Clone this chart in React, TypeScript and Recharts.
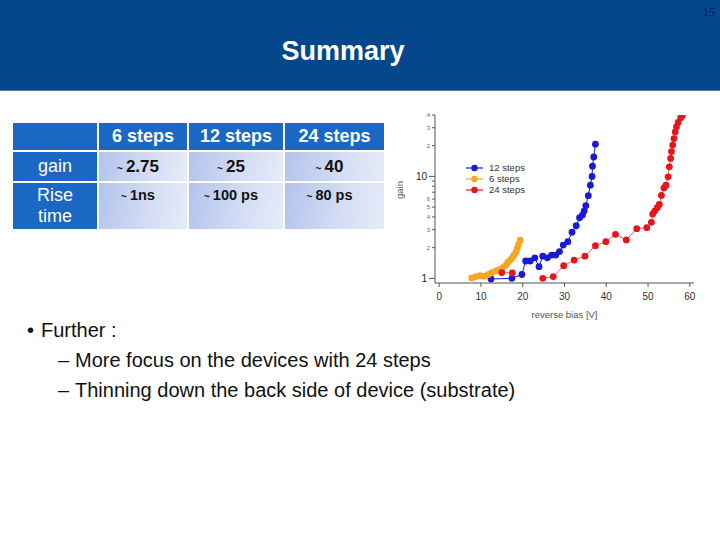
import React from "react";
import { ComposedChart, Line, XAxis, YAxis } from "recharts";

// gain vs reverse bias
const bias12 = [12.4, 17.4, 19.8, 20.7, 21.8, 22.9, 23.9, 24.8, 25.9, 26.9, 27.9, 28.8, 29.7, 30.8, 31.8, 32.8, 33.6, 34.3, 34.7, 35.1, 35.7, 36.2, 36.6, 36.7, 37.0, 37.4];
const gain12 = [0.985, 1.0, 1.09, 1.48, 1.48, 1.59, 1.3, 1.65, 1.59, 1.69, 1.69, 1.83, 2.12, 2.29, 2.83, 3.28, 3.93, 4.17, 4.57, 5.16, 6.47, 8.2, 10.0, 12.6, 15.5, 20.7];

const bias6 = [7.8, 8.8, 9.8, 10.8, 11.8, 12.6, 13.6, 14.4, 15.2, 16.0, 16.4, 17.0, 17.5, 17.9, 18.4, 18.7, 19.0, 19.4];
const gain6 = [1.01, 1.04, 1.06, 1.05, 1.09, 1.14, 1.18, 1.22, 1.27, 1.35, 1.43, 1.51, 1.59, 1.69, 1.82, 1.97, 2.15, 2.37];

const bias24Low = [15.0, 17.5];
const gain24Low = [1.14, 1.13];
const bias24 = [24.8, 27.3, 29.8, 32.3, 34.9, 37.4, 39.9, 42.2, 44.8, 47.3, 49.7, 50.8, 51.1, 51.6, 52.2, 52.7, 53.2, 53.8, 54.3, 54.8, 55.1, 55.4, 55.6, 55.9, 56.2, 56.5, 56.8, 57.2, 57.8, 58.2];
const gain24 = [1.0, 1.04, 1.33, 1.51, 1.65, 2.09, 2.29, 2.7, 2.38, 3.07, 3.14, 3.54, 4.27, 4.57, 4.93, 5.3, 6.5, 7.7, 8.2, 9.9, 12.4, 15.0, 17.5, 20.3, 23.5, 27.3, 30.5, 33.8, 37.6, 39.3];

const xTicks = [0, 10, 20, 30, 40, 50, 60];
const yTicks = [1, 2, 3, 4, 5, 6, 7, 8, 9, 10, 20, 30, 40];

const legendItems = [
  { name: "12 steps", color: "#1a1ad6" },
  { name: "6 steps", color: "#f5a623" },
  { name: "24 steps", color: "#e8161c" },
];

const tableHead = ["6 steps", "12 steps", "24 steps"];
const gainRow = ["2.75", "25", "40"];
const riseRow = ["1ns", "100 ps", "80 ps"];

const pts = (xs: number[], ys: number[]) => xs.map((v, i) => ({ v, g: ys[i] }));

const FONT = '"Liberation Sans", Arial, sans-serif';

const YTick = (props: any) => {
  const { x, y, payload } = props;
  const val = payload.value;
  const major = val === 1 || val === 10;
  const len = major ? 6 : 3;
  let label = "";
  if (val === 1 || val === 10) label = String(val);
  else if (val < 7) label = String(val);
  else if (val >= 20) label = String(val / 10);
  return (
    <g>
      <line x1={x - len} x2={x} y1={y} y2={y} stroke="#555" strokeWidth={1} />
      {label && (
        <text
          x={x - len - 2}
          y={y}
          dy={major ? 3.5 : 2}
          textAnchor="end"
          fontSize={major ? 10 : 6}
          fill={major ? "#222" : "#666"}
          fontFamily={FONT}
        >
          {label}
        </text>
      )}
    </g>
  );
};

const LegendBox = () => (
  <div style={{ fontFamily: FONT, fontSize: 9.5, color: "#333" }}>
    {legendItems.map((it) => (
      <div key={it.name} style={{ display: "flex", alignItems: "center", height: 11 }}>
        <svg width={18} height={8} style={{ marginRight: 5 }}>
          <line x1={0} x2={17} y1={4} y2={4} stroke={it.color} strokeWidth={1.2} />
          <circle cx={8.5} cy={4} r={3.2} fill={it.color} />
        </svg>
        {it.name}
      </div>
    ))}
  </div>
);

const headCell: React.CSSProperties = {
  background: "#1b67c4",
  color: "#fff",
  fontWeight: "bold",
  fontSize: 18,
  textAlign: "center",
  padding: 0,
};

const dataCell: React.CSSProperties = {
  background: "linear-gradient(100deg, #b3c3ec 0%, #d5def4 60%, #e6ebf8 100%)",
  color: "#111",
  fontWeight: "bold",
  textAlign: "center",
  padding: 0,
  paddingRight: 10,
};

const Tilde = () => <span style={{ fontSize: 10, marginRight: 3 }}>~</span>;

export default function App() {
  const seriesProps = (color: string, lineColor?: string) => ({
    type: "linear" as const,
    dataKey: "g",
    stroke: lineColor || color,
    strokeWidth: 1,
    dot: { r: 3.4, fill: color, stroke: color, strokeWidth: 0 },
    activeDot: false as const,
    isAnimationActive: false,
    legendType: "none" as const,
  });

  return (
    <div
      style={{
        position: "absolute",
        left: 0,
        top: 0,
        width: 720,
        height: 540,
        background: "#fff",
        overflow: "hidden",
        fontFamily: FONT,
      }}
    >
      {/* title bar */}
      <div
        style={{
          position: "absolute",
          left: 0,
          top: 0,
          width: 720,
          height: 90,
          background: "#04478a",
          borderBottom: "1px solid #5a7fa8",
        }}
      >
        <div
          style={{
            position: "absolute",
            right: 5,
            top: 5,
            fontFamily: '"Liberation Serif", serif',
            fontSize: 12,
            color: "#061a3c",
          }}
        >
          15
        </div>
        <div
          style={{
            position: "absolute",
            left: 0,
            width: 686,
            top: 36,
            textAlign: "center",
            color: "#fff",
            fontWeight: "bold",
            fontSize: 27,
          }}
        >
          Summary
        </div>
      </div>

      {/* table */}
      <table
        style={{
          position: "absolute",
          left: 11,
          top: 121,
          borderCollapse: "separate",
          borderSpacing: 2,
        }}
      >
        <tbody>
          <tr style={{ height: 27 }}>
            <td style={{ ...headCell, width: 84 }}></td>
            {tableHead.map((h, i) => (
              <td key={h} style={{ ...headCell, width: [88, 94, 99][i] }}>
                {h}
              </td>
            ))}
          </tr>
          <tr style={{ height: 29 }}>
            <td style={{ ...headCell, fontWeight: "normal" }}>gain</td>
            {gainRow.map((g) => (
              <td key={g} style={{ ...dataCell, fontSize: 17 }}>
                <Tilde />
                {g}
              </td>
            ))}
          </tr>
          <tr style={{ height: 46 }}>
            <td style={{ ...headCell, fontWeight: "normal", lineHeight: "21px" }}>
              Rise
              <br />
              time
            </td>
            {riseRow.map((r) => (
              <td key={r} style={{ ...dataCell, fontSize: 14.5, verticalAlign: "top", paddingTop: 4 }}>
                <Tilde />
                {r}
              </td>
            ))}
          </tr>
        </tbody>
      </table>

      {/* chart */}
      <div style={{ position: "absolute", left: 390, top: 105 }}>
        <ComposedChart
          width={320}
          height={220}
          margin={{ top: 10, right: 16, left: 0, bottom: 0 }}
        >
          <XAxis
            type="number"
            dataKey="v"
            domain={[-1, 61]}
            ticks={xTicks}
            allowDataOverflow
            stroke="#555"
            tickSize={4}
            tickMargin={6}
            tick={{ fontSize: 10, fill: "#333", fontFamily: FONT }}
            height={42}
            label={{
              value: "reverse bias [V]",
              position: "insideBottom",
              offset: 7,
              fontSize: 9.5,
              fill: "#555",
              fontFamily: FONT,
            }}
          />
          <YAxis
            type="number"
            scale="log"
            domain={[0.9, 40]}
            allowDataOverflow
            ticks={yTicks}
            interval={0}
            width={45}
            stroke="#555"
            tickLine={false}
            tickSize={0}
            tickMargin={0}
            tick={<YTick />}
            label={{
              value: "gain",
              angle: -90,
              position: "insideLeft",
              offset: 10,
              fontSize: 9.5,
              fill: "#555",
              fontFamily: FONT,
            }}
          />
          <Line data={pts(bias12, gain12)} {...seriesProps("#1a1ad6")} />
          <Line data={pts(bias6, gain6)} {...seriesProps("#f5a623")} />
          <Line data={pts(bias24Low, gain24Low)} {...seriesProps("#e8161c", "#ee5a5a")} />
          <Line data={pts(bias24, gain24)} {...seriesProps("#e8161c", "#ee5a5a")} />
        </ComposedChart>
        <div style={{ position: "absolute", left: 76, top: 57 }}>
          <LegendBox />
        </div>
      </div>

      {/* bullets */}
      <div style={{ position: "absolute", left: 27, top: 315, fontSize: 20, color: "#111", lineHeight: "30px" }}>
        <div>
          <span style={{ display: "inline-block", width: 14 }}>•</span>Further :
        </div>
        <div style={{ paddingLeft: 31 }}>
          <span style={{ display: "inline-block", width: 17 }}>–</span>More focus on the devices with 24 steps
        </div>
        <div style={{ paddingLeft: 31 }}>
          <span style={{ display: "inline-block", width: 17 }}>–</span>Thinning down the back side of device (substrate)
        </div>
      </div>
    </div>
  );
}
